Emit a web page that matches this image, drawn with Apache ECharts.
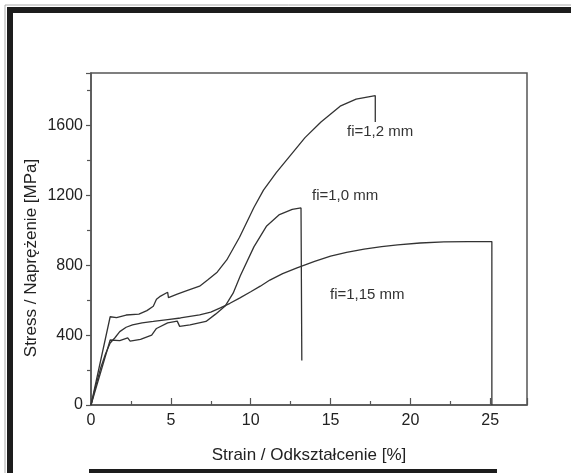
<!DOCTYPE html>
<html>
<head>
<meta charset="utf-8">
<script src="https://cdn.jsdelivr.net/npm/echarts@6/dist/echarts.min.js"></script>
<style>
  html, body { margin: 0; padding: 0; background: #fff; }
  #chart { width: 571px; height: 473px; }
</style>
</head>
<body>
<div id="chart"></div>
<script>
// [odkształcenie %, naprężenie MPa]
var curve12 = [
  [0, 0], [1.2, 505], [1.6, 500], [2.2, 515], [3.0, 520], [3.5, 540], [3.9, 565],
  [4.1, 605], [4.3, 620], [4.8, 645], [4.85, 615], [5.4, 635], [6.0, 655], [6.8, 680],
  [7.3, 715], [7.9, 760], [8.5, 830], [9.3, 960], [10.2, 1130], [10.8, 1230],
  [11.6, 1330], [12.5, 1430], [13.4, 1530], [14.4, 1620], [15.6, 1710], [16.6, 1750],
  [17.2, 1760], [17.8, 1770], [17.8, 1620]
];
var curve10 = [
  [0, 0], [1.2, 372], [1.8, 368], [2.3, 384], [2.45, 366], [3.1, 376], [3.8, 400],
  [4.1, 438], [4.8, 470], [5.4, 480], [5.5, 488], [5.55, 450], [6.2, 458], [7.2, 478],
  [7.8, 520], [8.4, 566], [8.9, 640], [9.35, 740], [10.2, 905], [11.0, 1025],
  [11.8, 1090], [12.6, 1120], [13.15, 1128], [13.2, 255]
];
var curve115 = [
  [0, 0], [0.3, 110], [0.6, 210], [0.9, 290], [1.2, 355], [1.5, 385], [1.8, 420],
  [2.2, 445], [2.6, 458], [3.2, 470], [3.9, 478], [4.8, 489], [5.6, 498], [6.8, 516],
  [7.5, 532], [8.1, 556], [8.7, 582], [9.3, 612], [10.0, 648], [10.6, 680], [11.2, 715],
  [12.0, 752], [12.9, 785], [14.0, 822], [15.0, 852], [16.0, 874], [17.1, 892],
  [18.2, 906], [19.2, 916], [20.6, 927], [22.1, 934], [23.6, 935], [25.1, 935], [25.1, 0]
];
var seriesNames = ['fi=1,2 mm', 'fi=1,0 mm', 'fi=1,15 mm'];
var xTitle = 'Strain / Odkształcenie [%]';
var yTitle = 'Stress / Naprężenie [MPa]';

var font = 'Liberation Sans, Arial, sans-serif';
var chart = echarts.init(document.getElementById('chart'));

function lineSeries(name, data) {
  return {
    name: name,
    type: 'line',
    data: data,
    showSymbol: false,
    lineStyle: { color: '#333', width: 1.3 },
    animation: false
  };
}

chart.setOption({
  animation: false,
  grid: {
    left: 91, right: 44, top: 73, bottom: 68,
    show: true, borderColor: '#555', borderWidth: 1.5
  },
  xAxis: {
    type: 'value',
    min: 0, max: 27.3, interval: 5,
    name: xTitle,
    nameLocation: 'middle',
    nameGap: 42,
    nameTextStyle: { fontSize: 17, color: '#222', fontFamily: font },
    axisLine: { lineStyle: { color: '#555', width: 1.5 } },
    axisTick: { inside: true, length: 7, lineStyle: { color: '#555', width: 1.2 } },
    minorTick: { show: true, splitNumber: 2, length: 4, lineStyle: { color: '#555', width: 1.2 } },
    axisLabel: { fontSize: 16, color: '#222', margin: 8, fontFamily: font, showMaxLabel: false,
      formatter: function (v) { return String(v); } },
    splitLine: { show: false }
  },
  yAxis: {
    type: 'value',
    min: 0, max: 1900, interval: 400,
    axisLine: { show: true, lineStyle: { color: '#555', width: 1.5 } },
    axisTick: { show: true, inside: false, length: 5, lineStyle: { color: '#555', width: 1.2 } },
    minorTick: { show: true, splitNumber: 2, length: 4, lineStyle: { color: '#555', width: 1.2 } },
    axisLabel: { fontSize: 16, color: '#222', margin: 8, fontFamily: font, showMaxLabel: false,
      formatter: function (v) { return String(v); } },
    splitLine: { show: false }
  },
  series: [
    lineSeries(seriesNames[0], curve12),
    lineSeries(seriesNames[1], curve10),
    lineSeries(seriesNames[2], curve115)
  ],
  graphic: [
    // ramka skanu
    { type: 'rect', shape: { x: 5, y: 5, width: 580, height: 480 }, style: { fill: 'none', stroke: '#aaa', lineWidth: 1 }, silent: true },
    { type: 'rect', shape: { x: 7, y: 7, width: 564, height: 6 }, style: { fill: '#1c1c1c' }, silent: true },
    { type: 'rect', shape: { x: 7, y: 7, width: 6, height: 466 }, style: { fill: '#1c1c1c' }, silent: true },
    { type: 'rect', shape: { x: 89, y: 469, width: 408, height: 4 }, style: { fill: '#1c1c1c' }, silent: true },
    // opisy
    { type: 'text', x: 31, y: 258, rotation: Math.PI / 2,
      style: { text: yTitle, fontSize: 17, fill: '#222', fontFamily: font, align: 'center', verticalAlign: 'middle' } },
    { type: 'text', x: 347, y: 132,
      style: { text: seriesNames[0], fontSize: 15, fill: '#333', fontFamily: font, verticalAlign: 'middle' } },
    { type: 'text', x: 312, y: 196,
      style: { text: seriesNames[1], fontSize: 15, fill: '#333', fontFamily: font, verticalAlign: 'middle' } },
    { type: 'text', x: 330, y: 295,
      style: { text: seriesNames[2], fontSize: 15, fill: '#333', fontFamily: font, verticalAlign: 'middle' } }
  ]
});
</script>
</body>
</html>
